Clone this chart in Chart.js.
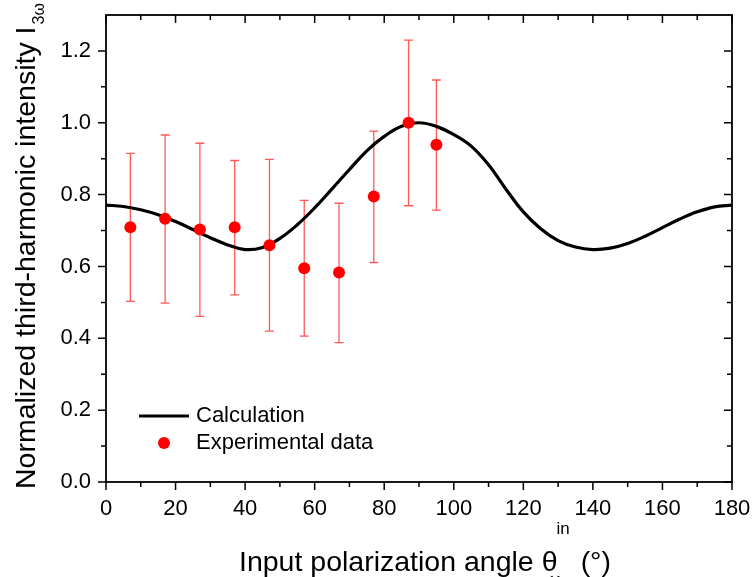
<!DOCTYPE html>
<html>
<head>
<meta charset="utf-8">
<script src="https://cdn.jsdelivr.net/npm/chart.js@4"></script>
<style>
  html, body { margin: 0; padding: 0; background: #fff; }
  #wrap { width: 755px; height: 577px; }
</style>
</head>
<body>
<div id="wrap"><canvas id="c" width="755" height="577"></canvas></div>
<script>
// Calculated curve (every 5 deg)
const calcAngle = [0, 5, 10, 15, 20, 25, 30, 35, 40, 45, 50, 55, 60, 65, 70, 75, 80, 85, 90,
  95, 100, 105, 110, 115, 120, 125, 130, 135, 140, 145, 150, 155, 160, 165, 170, 175, 180];
const calcValue = [0.771, 0.767, 0.758, 0.744, 0.725, 0.703, 0.680, 0.660, 0.647, 0.653, 0.678, 0.716,
  0.763, 0.816, 0.870, 0.922, 0.962, 0.990, 1.000,
  0.990, 0.967, 0.935, 0.883, 0.815, 0.752, 0.705, 0.672, 0.654, 0.647, 0.651, 0.664, 0.684,
  0.708, 0.732, 0.752, 0.766, 0.771];

// Experimental points with error bar ends
const expAngle = [7, 17, 27, 37, 47, 57, 67, 77, 87, 95];
const expValue = [0.709, 0.733, 0.703, 0.709, 0.659, 0.595, 0.583, 0.795, 1.000, 0.939];
const expLow   = [0.503, 0.498, 0.461, 0.521, 0.420, 0.406, 0.388, 0.611, 0.769, 0.757];
const expHigh  = [0.915, 0.966, 0.943, 0.895, 0.898, 0.784, 0.776, 0.977, 1.230, 1.119];

const xTicks = [0, 20, 40, 60, 80, 100, 120, 140, 160, 180];
const yTicks = [0.0, 0.2, 0.4, 0.6, 0.8, 1.0, 1.2];
const xMinor = [10, 30, 50, 70, 90, 110, 130, 150, 170];
const yMinor = [0.1, 0.3, 0.5, 0.7, 0.9, 1.1];

const FONT = '"Liberation Sans", Arial, sans-serif';
const RED = "#ff0000";

// error bars under everything else
const errorBars = {
  id: "errorBars",
  beforeDatasetsDraw(chart) {
    const x = chart.scales.x, y = chart.scales.y, ctx = chart.ctx;
    ctx.save();
    ctx.strokeStyle = "rgba(255,0,0,0.65)";
    ctx.lineWidth = 1.3;
    expAngle.forEach((a, i) => {
      const px = x.getPixelForValue(a);
      const lo = y.getPixelForValue(expLow[i]);
      const hi = y.getPixelForValue(expHigh[i]);
      ctx.beginPath();
      ctx.moveTo(px, lo); ctx.lineTo(px, hi);
      ctx.moveTo(px - 4.5, lo); ctx.lineTo(px + 4.5, lo);
      ctx.moveTo(px - 4.5, hi); ctx.lineTo(px + 4.5, hi);
      ctx.stroke();
    });
    ctx.restore();
  },
};

// Origin-style frame: outward ticks on left/bottom, mirrored inward on top/right,
// plus the legend and the axis titles with sub/superscripts.
const frame = {
  id: "frame",
  afterDraw(chart) {
    const ctx = chart.ctx, a = chart.chartArea;
    const x = chart.scales.x, y = chart.scales.y;
    ctx.save();
    ctx.strokeStyle = "#000";
    ctx.lineWidth = 1.8;
    ctx.strokeRect(a.left, a.top, a.right - a.left, a.bottom - a.top);

    ctx.lineWidth = 1.5;
    ctx.beginPath();
    const tx = (v, len) => {
      const p = x.getPixelForValue(v);
      ctx.moveTo(p, a.bottom); ctx.lineTo(p, a.bottom + len);
      ctx.moveTo(p, a.top); ctx.lineTo(p, a.top + len);
    };
    const ty = (v, len) => {
      const p = y.getPixelForValue(v);
      ctx.moveTo(a.left, p); ctx.lineTo(a.left - len, p);
      ctx.moveTo(a.right, p); ctx.lineTo(a.right - len, p);
    };
    xTicks.forEach((v) => tx(v, 8));
    xMinor.forEach((v) => tx(v, 5));
    yTicks.forEach((v) => ty(v, 8));
    yMinor.forEach((v) => ty(v, 5));
    ctx.stroke();

    // legend
    ctx.lineWidth = 3;
    ctx.beginPath();
    ctx.moveTo(139, 416); ctx.lineTo(189, 416);
    ctx.stroke();
    ctx.fillStyle = RED;
    ctx.beginPath();
    ctx.arc(164, 443, 6, 0, Math.PI * 2);
    ctx.fill();
    ctx.fillStyle = "#000";
    ctx.font = "22px " + FONT;
    ctx.textBaseline = "middle";
    ctx.textAlign = "left";
    ctx.fillText("Calculation", 196, 416);
    ctx.fillText("Experimental data", 196, 443);

    // x title
    ctx.textBaseline = "alphabetic";
    ctx.font = "28.5px " + FONT;
    const main = "Input polarization angle \u03b8";
    let cx = 239;
    ctx.fillText(main, cx, 571);
    cx += ctx.measureText(main).width;
    ctx.font = "17px " + FONT;
    ctx.fillText("in", cx - 1, 534);
    ctx.fillText("\u03c9", cx - 9, 585);
    cx += ctx.measureText("in").width + 2;
    ctx.font = "28.5px " + FONT;
    ctx.fillText(" (\u00b0)", cx, 571);

    // y title
    ctx.save();
    ctx.translate(35, 489);
    ctx.rotate(-Math.PI / 2);
    ctx.font = "28.5px " + FONT;
    const yt = "Normalized third-harmonic intensity I";
    ctx.fillText(yt, 0, 0);
    const w = ctx.measureText(yt).width;
    ctx.font = "16px " + FONT;
    ctx.fillText("3\u03c9", w + 2, 9);
    ctx.restore();

    ctx.restore();
  },
};

const noPad = (s) => { s.paddingLeft = s.paddingRight = s.paddingTop = s.paddingBottom = 0; };

new Chart(document.getElementById("c"), {
  type: "scatter",
  data: {
    datasets: [
      {
        label: "Experimental data",
        data: expAngle.map((a, i) => ({ x: a, y: expValue[i] })),
        pointRadius: 6,
        pointHoverRadius: 6,
        pointBackgroundColor: RED,
        pointBorderWidth: 0,
        showLine: false,
      },
      {
        label: "Calculation",
        data: calcAngle.map((a, i) => ({ x: a, y: calcValue[i] })),
        showLine: true,
        borderColor: "#000",
        borderWidth: 3.2,
        pointRadius: 0,
        tension: 0.4,
      },
    ],
  },
  options: {
    responsive: false,
    animation: false,
    events: [],
    layout: { autoPadding: false, padding: { top: 15, right: 23, left: 0, bottom: 0 } },
    plugins: { legend: { display: false }, tooltip: { enabled: false } },
    scales: {
      x: {
        type: "linear",
        min: 0, max: 180,
        afterBuildTicks: (s) => { s.ticks = xTicks.map((v) => ({ value: v })); },
        afterFit: (s) => { s.height = 95; noPad(s); },
        grid: { display: false, drawTicks: false },
        border: { display: false },
        ticks: {
          padding: 14,
          color: "#000",
          maxRotation: 0,
          font: { family: FONT, size: 22 },
          callback: (v) => String(v),
        },
      },
      y: {
        type: "linear",
        min: 0, max: 1.3,
        afterBuildTicks: (s) => { s.ticks = yTicks.map((v) => ({ value: v })); },
        afterFit: (s) => { s.width = 106; noPad(s); },
        grid: { display: false, drawTicks: false },
        border: { display: false },
        ticks: {
          padding: 15,
          color: "#000",
          font: { family: FONT, size: 22 },
          callback: (v) => v.toFixed(1),
        },
      },
    },
  },
  plugins: [errorBars, frame],
});
</script>
</body>
</html>
